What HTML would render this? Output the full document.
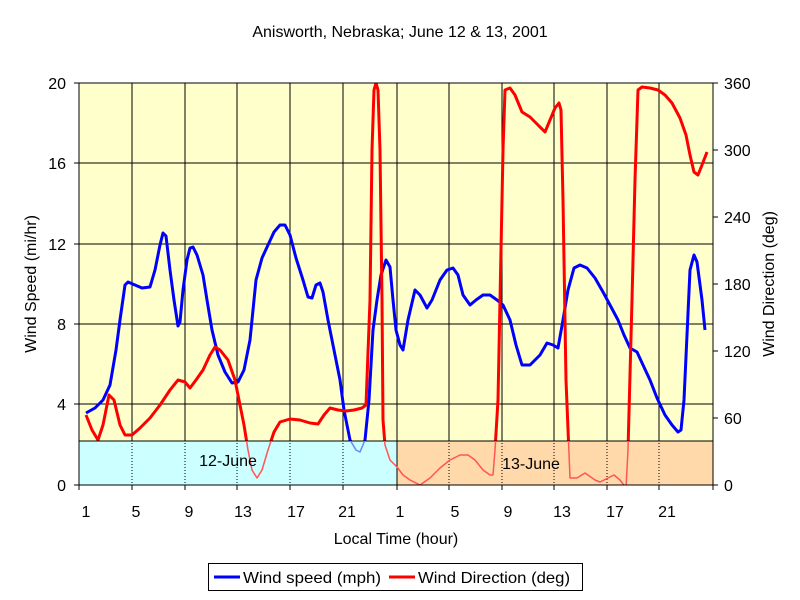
<!DOCTYPE html>
<html><head><style>body{margin:0;background:#fff}svg{display:block;font-family:"Liberation Sans",Arial,sans-serif}</style></head><body>
<svg width="800" height="600" viewBox="0 0 800 600">
<defs><clipPath id="bx"><rect x="79" y="441" width="634" height="44"/></clipPath>
<clipPath id="pa"><rect x="79" y="83" width="634" height="358"/></clipPath></defs>
<text x="400" y="37" font-size="16" text-anchor="middle">Anisworth, Nebraska; June 12 &amp; 13, 2001</text>
<rect x="79" y="83" width="634" height="402" fill="#FFFFCC"/>
<g stroke="#000" stroke-width="1">
<line x1="79" y1="163" x2="713" y2="163"/><line x1="79" y1="244" x2="713" y2="244"/><line x1="79" y1="324" x2="713" y2="324"/><line x1="79" y1="404" x2="713" y2="404"/>
<g id="vg"><line x1="132" y1="83" x2="132" y2="485"/><line x1="185" y1="83" x2="185" y2="485"/><line x1="237" y1="83" x2="237" y2="485"/><line x1="290" y1="83" x2="290" y2="485"/><line x1="343" y1="83" x2="343" y2="485"/><line x1="397" y1="83" x2="397" y2="485"/><line x1="449" y1="83" x2="449" y2="485"/><line x1="502" y1="83" x2="502" y2="485"/><line x1="554" y1="83" x2="554" y2="485"/><line x1="607" y1="83" x2="607" y2="485"/><line x1="659" y1="83" x2="659" y2="485"/></g>
</g>
<g fill="none" stroke-width="3" stroke-linejoin="round" clip-path="url(#pa)">
<polyline stroke="#0000FF" points="86,413 95,408 103,400 110,385 116,350 120,320 125,285 128,282 135,285 142,288 150,287 155,270 160,245 163,233 166,236 170,270 174,300 178,326 180,322 183,290 187,260 190,248 193,247 197,255 203,275 207,300 212,330 218,355 225,372 232,383 238,382 244,370 250,340 256,280 262,258 268,245 274,232 280,225 285,225 290,235 296,258 303,280 308,297 312,298 316,285 320,283 323,292 328,320 334,350 340,380 344,410 350,440 356,450 360,452 365,440 369,400 373,330 377,300 381,275 386,260 390,267 393,300 396,330 400,345 403,350 408,320 415,290 420,295 427,308 432,300 440,280 447,270 453,268 458,275 463,295 470,305 476,300 483,295 490,295 497,300 503,305 510,320 516,345 522,365 530,365 540,355 547,343 553,345 558,348 563,320 568,290 574,268 580,265 587,268 595,278 603,292 610,305 618,320 624,335 630,348 637,352 643,365 650,380 657,398 665,415 672,425 678,432 681,430 684,400 690,270 694,255 697,262 702,300 705,330"/>
<polyline stroke="#FF0000" points="86,415 92,430 98,440 103,425 109,395 114,400 120,425 125,435 132,435 140,428 150,418 160,405 170,390 178,380 185,382 190,388 196,380 203,370 210,355 215,347 220,350 228,360 235,380 240,405 244,425 248,450 252,470 257,478 262,470 268,450 274,432 280,422 290,419 300,420 310,423 318,424 324,415 330,408 338,410 346,411 354,410 362,408 366,405 370,300 372,150 374,90 376,83 378,90 380,150 382,300 383,420 385,445 390,460 397,467 403,475 410,480 420,485 430,478 440,468 450,460 460,455 468,455 475,460 483,470 490,475 493,475 495,450 498,400 500,300 503,150 505,90 510,88 515,95 522,112 530,117 538,125 545,132 550,120 555,108 559,103 561,110 563,200 566,380 570,478 577,478 585,473 595,480 600,482 608,478 614,475 620,480 626,488 628,450 632,300 635,180 638,90 642,87 650,88 658,90 665,95 672,103 680,118 686,135 690,155 694,172 698,175 702,165 707,152"/>
</g>
<rect x="79" y="441" width="318" height="44" fill="#CCFFFF" stroke="#000"/>
<rect x="397" y="441" width="316" height="44" fill="#FFD9AA" stroke="#000"/>
<g stroke="#000" stroke-dasharray="1,2" clip-path="url(#bx)"><use href="#vg"/></g>
<g fill="none" stroke-width="1.5" stroke-linejoin="round" clip-path="url(#bx)">
<polyline stroke="#6688ff" points="344,410 350,440 356,450 360,452 365,440 369,400 393,300 396,330 400,345"/>
<polyline stroke="#6688ff" points="665,415 672,425 678,432 681,430 684,400"/>
<polyline stroke="#ff5555" points="235,380 240,405 244,425 248,450 252,470 257,478 262,470 268,450 274,432 280,422 290,419 300,420 310,423 318,424 324,415 330,408 338,410 346,411 354,410 362,408 366,405 370,300 378,90 382,300 383,420 385,445 390,460 397,467 403,475 410,480 420,485 430,478 440,468 450,460 460,455 468,455 475,460 483,470 490,475 493,475 495,450 498,400 500,300 561,110 563,200 566,380 570,478 577,478 585,473 595,480 600,482 608,478 614,475 620,480 626,488 628,450 632,300"/>
<polyline stroke="#ff5555" points="86,415 92,430 98,440 103,425 109,395 114,400 120,425 125,435 132,435"/>
</g>
<text x="228" y="466" font-size="16" text-anchor="middle">12-June</text>
<text x="531" y="469" font-size="16" text-anchor="middle">13-June</text>
<rect x="79" y="83" width="634" height="402" fill="none" stroke="#000"/>
<g stroke="#000"><line x1="74" y1="83" x2="79" y2="83"/><line x1="74" y1="163" x2="79" y2="163"/><line x1="74" y1="244" x2="79" y2="244"/><line x1="74" y1="324" x2="79" y2="324"/><line x1="74" y1="404" x2="79" y2="404"/><line x1="74" y1="485" x2="79" y2="485"/>
<line x1="713" y1="83" x2="718" y2="83"/><line x1="713" y1="150" x2="718" y2="150"/><line x1="713" y1="217" x2="718" y2="217"/><line x1="713" y1="284" x2="718" y2="284"/><line x1="713" y1="351" x2="718" y2="351"/><line x1="713" y1="418" x2="718" y2="418"/><line x1="713" y1="485" x2="718" y2="485"/>
<line x1="79" y1="485" x2="79" y2="490"/><line x1="132" y1="485" x2="132" y2="490"/><line x1="185" y1="485" x2="185" y2="490"/><line x1="237" y1="485" x2="237" y2="490"/><line x1="290" y1="485" x2="290" y2="490"/><line x1="343" y1="485" x2="343" y2="490"/><line x1="397" y1="485" x2="397" y2="490"/><line x1="449" y1="485" x2="449" y2="490"/><line x1="502" y1="485" x2="502" y2="490"/><line x1="554" y1="485" x2="554" y2="490"/><line x1="607" y1="485" x2="607" y2="490"/><line x1="659" y1="485" x2="659" y2="490"/><line x1="713" y1="485" x2="713" y2="490"/></g>
<g font-size="16" text-anchor="end"><text x="66" y="89">20</text><text x="66" y="169">16</text><text x="66" y="250">12</text><text x="66" y="330">8</text><text x="66" y="410">4</text><text x="66" y="491">0</text></g>
<g font-size="16"><text x="724" y="89">360</text><text x="724" y="156">300</text><text x="724" y="223">240</text><text x="724" y="290">180</text><text x="724" y="357">120</text><text x="724" y="424">60</text><text x="724" y="491">0</text></g>
<g font-size="16" text-anchor="middle"><text x="86" y="517">1</text><text x="136" y="517">5</text><text x="189" y="517">9</text><text x="243" y="517">13</text><text x="296" y="517">17</text><text x="347" y="517">21</text><text x="400" y="517">1</text><text x="455" y="517">5</text><text x="508" y="517">9</text><text x="562" y="517">13</text><text x="615" y="517">17</text><text x="667" y="517">21</text></g>
<text x="396" y="544" font-size="16" text-anchor="middle">Local Time (hour)</text>
<text transform="translate(36,284) rotate(-90)" font-size="16" text-anchor="middle">Wind Speed (mi/hr)</text>
<text transform="translate(774,284) rotate(-90)" font-size="16" text-anchor="middle">Wind Direction (deg)</text>
<rect x="208.5" y="563.5" width="374" height="27" fill="#fff" stroke="#000"/>
<line x1="214" y1="577" x2="240" y2="577" stroke="#0000FF" stroke-width="3"/>
<text x="243" y="583" font-size="16" textLength="138" lengthAdjust="spacingAndGlyphs">Wind speed (mph)</text>
<line x1="389" y1="577" x2="415" y2="577" stroke="#FF0000" stroke-width="3"/>
<text x="418" y="583" font-size="16" textLength="152" lengthAdjust="spacingAndGlyphs">Wind Direction (deg)</text>
</svg>
</body></html>
